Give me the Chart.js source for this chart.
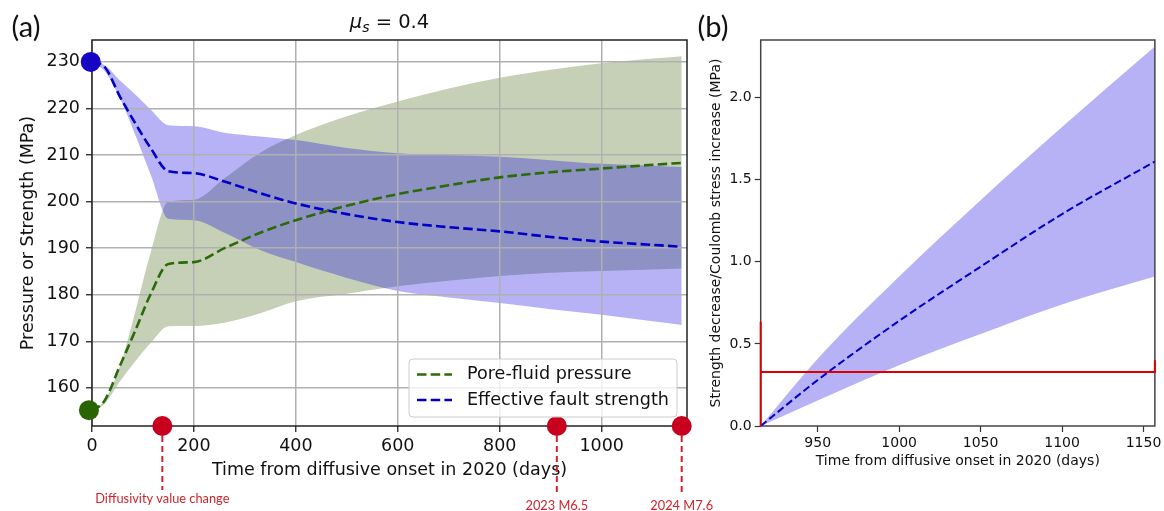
<!DOCTYPE html>
<html>
<head>
<meta charset="utf-8">
<script src="https://cdn.jsdelivr.net/npm/chart.js@4.4.1/dist/chart.umd.min.js"></script>
<style>
  html, body { margin: 0; padding: 0; background: #fff; }
  body { width: 1164px; height: 511px; position: relative; overflow: hidden; }
  #left { position: absolute; left: 0; top: 0; }
  #right { position: absolute; left: 690px; top: 0; }
</style>
</head>
<body>
<canvas id="left" width="720" height="511"></canvas>
<canvas id="right" width="474" height="511"></canvas>
<script>
// Panel (a): days from diffusive onset
const days = [0, 25, 55, 85, 115, 150, 200, 260, 330, 400, 500, 600, 700, 800, 900, 1000, 1100, 1157];
const poreMean  = [155, 157.3, 164.8, 172.3, 180.1, 186.6, 187, 190, 193.3, 196, 199.1, 201.6, 203.5, 205.2, 206.3, 207.1, 207.9, 208.3];
const poreUpper = [155, 157.4, 164.7, 176.4, 189, 200, 200.4, 205, 210.5, 214.3, 218.3, 221.5, 224.3, 226.6, 228.3, 229.7, 230.7, 231.2];
const poreLower = [155, 156.6, 161.4, 165.7, 169.6, 173.2, 173.3, 174, 176, 178.6, 180.2, 181.8, 183, 184, 184.7, 185.1, 185.4, 185.6];
const strMean   = [230, 228.9, 222.5, 216.8, 211.5, 206.5, 206.1, 204.3, 201.8, 199.6, 197.3, 195.6, 194.5, 193.6, 192.4, 191.4, 190.7, 190.3];
const strUpper  = [230, 229.3, 226, 223, 219.8, 216.4, 216.2, 214.8, 214, 213.2, 211.5, 210.4, 210, 209.6, 208.9, 208.1, 207.7, 207.4];
const strLower  = [230, 228, 222.2, 214.3, 205.8, 196.3, 196, 193.3, 189.6, 187, 183.6, 180.8, 179.4, 178.2, 176.9, 175.7, 174.3, 173.5];

// start markers (day, value)
const strStart = [-2.5, 230];
const poreStart = [-6, 155.2];

// events marked under the time axis
const eventDays = [138, 912, 1157];
const eventLabels = ['Diffusivity value change', '2023 M6.5', '2024 M7.6'];

const xTicksA = [0, 200, 400, 600, 800, 1000];
const yTicksA = [160, 170, 180, 190, 200, 210, 220, 230];

// Panel (b)
const daysB = [915, 950, 1000, 1050, 1100, 1157];
const coulMean  = [0, 0.28, 0.64, 0.97, 1.29, 1.61];
const coulUpper = [0, 0.41, 0.91, 1.375, 1.82, 2.31];
const coulLower = [0, 0.155, 0.37, 0.56, 0.74, 0.91];
const threshDays   = [915, 915, 915, 1157, 1157];
const threshValues = [0.635, 0, 0.328, 0.328, 0.40];

const xTicksB = [950, 1000, 1050, 1100, 1150];
const yTicksB = [0, 0.5, 1.0, 1.5, 2.0];

// Styles
const FONT = 'DejaVu Sans';
const LABEL_FONT = 'Lato';
const GREEN_LINE = '#2b6a08';
const BLUE_LINE = '#0000c8';
const GREEN_BAND = 'rgb(197,208,182)';
const BLUE_BAND = 'rgba(15,0,225,0.30)';
const BLUE_DOT = '#1705c4';
const GREEN_DOT = '#2a6400';
const RED_DOT = '#c8001e';
const RED_TEXT = '#d2232a';
const GRID = '#b0b0b0';

const pts = (xs, ys) => xs.map((x, i) => ({ x, y: ys[i] }));
const fixedTicks = list => s => { s.ticks = list.map(v => ({ value: v })); };

const band = (xs, ys, color, order, fill) => ({
  data: pts(xs, ys), borderColor: 'rgba(0,0,0,0)', borderWidth: 0, pointRadius: 0,
  backgroundColor: color, fill: fill, order: order, cubicInterpolationMode: 'monotone'
});

const framePlugin = color => ({
  id: 'frame',
  beforeDatasetsDraw(chart) {
    const { ctx, chartArea: a } = chart;
    ctx.save();
    ctx.strokeStyle = color;
    ctx.lineWidth = 1.5;
    ctx.strokeRect(a.left, a.top, a.right - a.left, a.bottom - a.top);
    ctx.restore();
  }
});

// Panel (a) decorations: title, tag, legend, event annotations
const decoA = {
  id: 'decoA',
  afterDraw(chart) {
    const { ctx, chartArea: a } = chart;
    const xs = chart.scales.x;
    ctx.save();

    // panel tag
    ctx.fillStyle = '#111';
    ctx.font = `29px ${LABEL_FONT}`;
    ctx.textAlign = 'center';
    ctx.textBaseline = 'middle';
    ctx.fillText('(a)', 26, 28);

    // title mu_s = 0.4
    ctx.textAlign = 'left';
    ctx.textBaseline = 'alphabetic';
    ctx.font = `italic 19.5px ${FONT}`;
    const w1 = ctx.measureText('μ').width;
    ctx.font = `italic 14px ${FONT}`;
    const w2 = ctx.measureText('s').width;
    ctx.font = `19.5px ${FONT}`;
    const w3 = ctx.measureText(' = 0.4').width;
    let tx = (a.left + a.right) / 2 - (w1 + w2 + w3) / 2;
    const ty = 28;
    ctx.font = `italic 19.5px ${FONT}`;
    ctx.fillText('μ', tx, ty);
    tx += w1;
    ctx.font = `italic 14px ${FONT}`;
    ctx.fillText('s', tx, ty + 3.5);
    tx += w2;
    ctx.font = `19.5px ${FONT}`;
    ctx.fillText(' = 0.4', tx, ty);

    // legend
    const bw = 268, bh = 58;
    const bx = a.right - 10 - bw, by = a.bottom - 9 - bh;
    ctx.fillStyle = 'rgba(255,255,255,0.8)';
    ctx.strokeStyle = '#cccccc';
    ctx.lineWidth = 1;
    ctx.beginPath();
    ctx.roundRect(bx, by, bw, bh, 4);
    ctx.fill();
    ctx.stroke();
    const rows = [chart.data.datasets[0], chart.data.datasets[1]];
    rows.forEach((ds, i) => {
      const ry = by + 15.5 + i * 25.5;
      ctx.strokeStyle = ds.borderColor;
      ctx.lineWidth = ds.borderWidth;
      ctx.setLineDash(ds.borderDash);
      ctx.beginPath();
      ctx.moveTo(bx + 8, ry);
      ctx.lineTo(bx + 43, ry);
      ctx.stroke();
      ctx.setLineDash([]);
      ctx.fillStyle = '#111';
      ctx.font = `17.6px ${FONT}`;
      ctx.textBaseline = 'middle';
      ctx.fillText(ds.label, bx + 58, ry);
    });

    // event lines and labels under the axis
    eventDays.forEach((d, i) => {
      const px = xs.getPixelForValue(d);
      ctx.strokeStyle = RED_TEXT;
      ctx.lineWidth = 2;
      ctx.setLineDash([6, 4]);
      ctx.beginPath();
      ctx.moveTo(px, a.bottom + 10);
      ctx.lineTo(px, a.bottom + (i === 0 ? 64 : 66));
      ctx.stroke();
      ctx.setLineDash([]);
      ctx.fillStyle = RED_TEXT;
      ctx.font = `12.8px ${LABEL_FONT}`;
      ctx.textAlign = 'center';
      ctx.textBaseline = 'middle';
      ctx.fillText(eventLabels[i], px, a.bottom + (i === 0 ? 73 : 80));
    });
    ctx.restore();
  }
};

new Chart(document.getElementById('left'), {
  type: 'line',
  data: {
    datasets: [
      { label: 'Pore-fluid pressure', data: pts(days, poreMean), borderColor: GREEN_LINE, borderWidth: 2.6,
        borderDash: [9.5, 4.2], pointRadius: 0, fill: false, order: 0, cubicInterpolationMode: 'monotone' },
      { label: 'Effective fault strength', data: pts(days, strMean), borderColor: BLUE_LINE, borderWidth: 2.6,
        borderDash: [9.5, 4.2], pointRadius: 0, fill: false, order: 0, cubicInterpolationMode: 'monotone' },
      band(days, strUpper, BLUE_BAND, 1, '+1'),
      band(days, strLower, 'rgba(0,0,0,0)', 1, false),
      band(days, poreUpper, GREEN_BAND, 2, '+1'),
      band(days, poreLower, 'rgba(0,0,0,0)', 2, false),
      { data: [{ x: strStart[0], y: strStart[1] }], showLine: false, pointRadius: 10, pointBorderWidth: 0,
        pointBackgroundColor: BLUE_DOT, clip: false, order: -1 },
      { data: [{ x: poreStart[0], y: poreStart[1] }], showLine: false, pointRadius: 10, pointBorderWidth: 0,
        pointBackgroundColor: GREEN_DOT, clip: false, order: -1 },
      { data: eventDays.map(d => ({ x: d, y: 151.8 })), showLine: false, pointRadius: 10, pointBorderWidth: 0,
        pointBackgroundColor: RED_DOT, clip: false, order: -2 }
    ]
  },
  options: {
    responsive: false,
    animation: false,
    layout: { padding: { left: 0, top: 40, right: 33, bottom: 0 } },
    plugins: { legend: { display: false }, tooltip: { enabled: false }, filler: { drawTime: 'beforeDraw' } },
    scales: {
      x: {
        type: 'linear', min: 0, max: 1167.4,
        afterBuildTicks: fixedTicks(xTicksA),
        afterFit: s => { s.height = 85; },
        grid: { color: GRID, lineWidth: 1.5, tickLength: 6, tickColor: '#222', tickWidth: 1.3 },
        border: { display: false },
        ticks: { color: '#111', font: { family: FONT, size: 17.5 }, padding: 4, maxRotation: 0,
                 callback: v => String(v) },
        title: { display: true, text: 'Time from diffusive onset in 2020 (days)', color: '#111',
                 font: { family: FONT, size: 17.5 }, padding: { top: 0, bottom: 30 } }
      },
      y: {
        type: 'linear', min: 151.8, max: 234.7,
        afterBuildTicks: fixedTicks(yTicksA),
        afterFit: s => { s.width = 92; },
        grid: { color: GRID, lineWidth: 1.5, tickLength: 6, tickColor: '#222', tickWidth: 1.3 },
        border: { display: false },
        ticks: { color: '#111', font: { family: FONT, size: 17.5 }, padding: 6, callback: v => String(v) },
        title: { display: true, text: 'Pressure or Strength (MPa)', color: '#111',
                 font: { family: FONT, size: 17.5 }, padding: { top: 18, bottom: 0 } }
      }
    }
  },
  plugins: [framePlugin('#222'), decoA]
});

// Panel (b)
const decoB = {
  id: 'decoB',
  afterDraw(chart) {
    const { ctx } = chart;
    ctx.save();
    ctx.fillStyle = '#111';
    ctx.font = `29px ${LABEL_FONT}`;
    ctx.textAlign = 'center';
    ctx.textBaseline = 'middle';
    ctx.fillText('(b)', 23, 28);
    ctx.restore();
  }
};

new Chart(document.getElementById('right'), {
  type: 'line',
  data: {
    datasets: [
      { data: pts(threshDays, threshValues), borderColor: '#dd0000', borderWidth: 2, pointRadius: 0,
        fill: false, order: 0, clip: false },
      { data: pts(daysB, coulMean), borderColor: BLUE_LINE, borderWidth: 2, borderDash: [7.5, 3.5],
        pointRadius: 0, fill: false, order: 0, cubicInterpolationMode: 'monotone' },
      band(daysB, coulUpper, BLUE_BAND, 1, '+1'),
      band(daysB, coulLower, 'rgba(0,0,0,0)', 1, false)
    ]
  },
  options: {
    responsive: false,
    animation: false,
    layout: { padding: { left: 0, top: 40, right: 7.3, bottom: 0 } },
    plugins: { legend: { display: false }, tooltip: { enabled: false }, filler: { drawTime: 'beforeDraw' } },
    scales: {
      x: {
        type: 'linear', min: 915, max: 1157,
        afterBuildTicks: fixedTicks(xTicksB),
        afterFit: s => { s.height = 85; },
        grid: { display: true, drawOnChartArea: false, tickLength: 6, tickColor: '#333', tickWidth: 1.2 },
        border: { display: false },
        ticks: { color: '#111', font: { family: FONT, size: 14 }, padding: 2.5, maxRotation: 0,
                 callback: v => String(v) },
        title: { display: true, text: 'Time from diffusive onset in 2020 (days)', color: '#111',
                 font: { family: FONT, size: 14 }, padding: { top: 0, bottom: 41.5 } }
      },
      y: {
        type: 'linear', min: 0, max: 2.35,
        afterBuildTicks: fixedTicks(yTicksB),
        afterFit: s => { s.width = 70.7; },
        grid: { display: true, drawOnChartArea: false, tickLength: 6, tickColor: '#333', tickWidth: 1.2 },
        border: { display: false },
        ticks: { color: '#111', font: { family: FONT, size: 14 }, padding: 3,
                 callback: v => v.toFixed(1) },
        title: { display: true, text: 'Strength decrease/Coulomb stress increase (MPa)', color: '#111',
                 font: { family: FONT, size: 14 }, padding: { top: 17.5, bottom: 0 } }
      }
    }
  },
  plugins: [framePlugin('#444'), decoB]
});
</script>
</body>
</html>
